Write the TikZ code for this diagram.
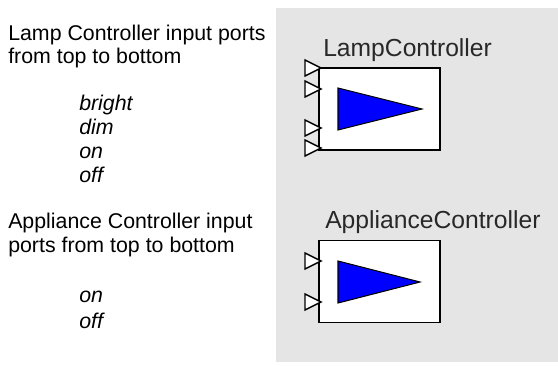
\documentclass[tikz,border=0pt]{standalone}
\usepackage{fontspec}
\setmainfont{Liberation Sans}
\usetikzlibrary{positioning}
\definecolor{PanelGrey}{RGB}{229,229,229}
\definecolor{GainBlue}{RGB}{0,0,255}
\definecolor{LabelInk}{RGB}{40,40,40}

\begin{document}
\begin{tikzpicture}[x=0.75pt, y=-0.75pt,
    note/.style={anchor=base west, inner sep=0pt, font=\fontsize{16}{19}\selectfont},
    portname/.style={anchor=base west, inner sep=0pt, font=\fontsize{16}{19}\selectfont\itshape},
    ctrl/.style={draw=black, fill=white, line width=1.1pt, minimum width=90.75pt,
                 minimum height=61.5pt, inner sep=0pt},
    ctrlname/.style={anchor=base west, inner sep=0pt, text=LabelInk, font=\fontsize{18.5}{22}\selectfont},
    gain/.style={draw=black, fill=GainBlue, line width=0.8pt, line join=miter},
    inport/.style={draw=black, fill=white, line width=1.1pt, line join=miter}]
  \useasboundingbox (0,0) rectangle (558,365);

  % left column: notes
  \node[note] (lampnote1) at (8,40) {Lamp Controller input ports};
  \node[note] (lampnote2) at (8,63) {from top to bottom};
  \node[portname] (lbright) at (79,110) {bright};
  \node[portname] (ldim)    at (79,134) {dim};
  \node[portname] (lon)     at (79,158) {on};
  \node[portname] (loff)    at (79,182) {off};

  \node[note] (appnote1) at (8,228) {Appliance Controller input};
  \node[note] (appnote2) at (8,252) {ports from top to bottom};
  \node[portname] (aon)  at (79,302) {on};
  \node[portname] (aoff) at (79,328) {off};

  % right column: the two blocks
  \fill[PanelGrey] (276,8) rectangle (558,362);

  \node[ctrl] (lamp) at (379.5,109) {};
  \node[ctrlname] (lampname) at (323,56) {LampController};
  \draw[gain] (338,88) -- (422,109) -- (338,130) -- cycle;
  \foreach \y in {68,89,128,148}
    \draw[inport] (305,\y-8) -- (321,\y) -- (305,\y+8) -- cycle;

  \node[ctrl] (appliance) at (379.5,281.5) {};
  \node[ctrlname] (appliancename) at (325,228) {ApplianceController};
  \draw[gain] (338,261) -- (420,282) -- (338,303) -- cycle;
  \foreach \y in {261,302}
    \draw[inport] (305,\y-8) -- (321,\y) -- (305,\y+8) -- cycle;
\end{tikzpicture}
\end{document}
